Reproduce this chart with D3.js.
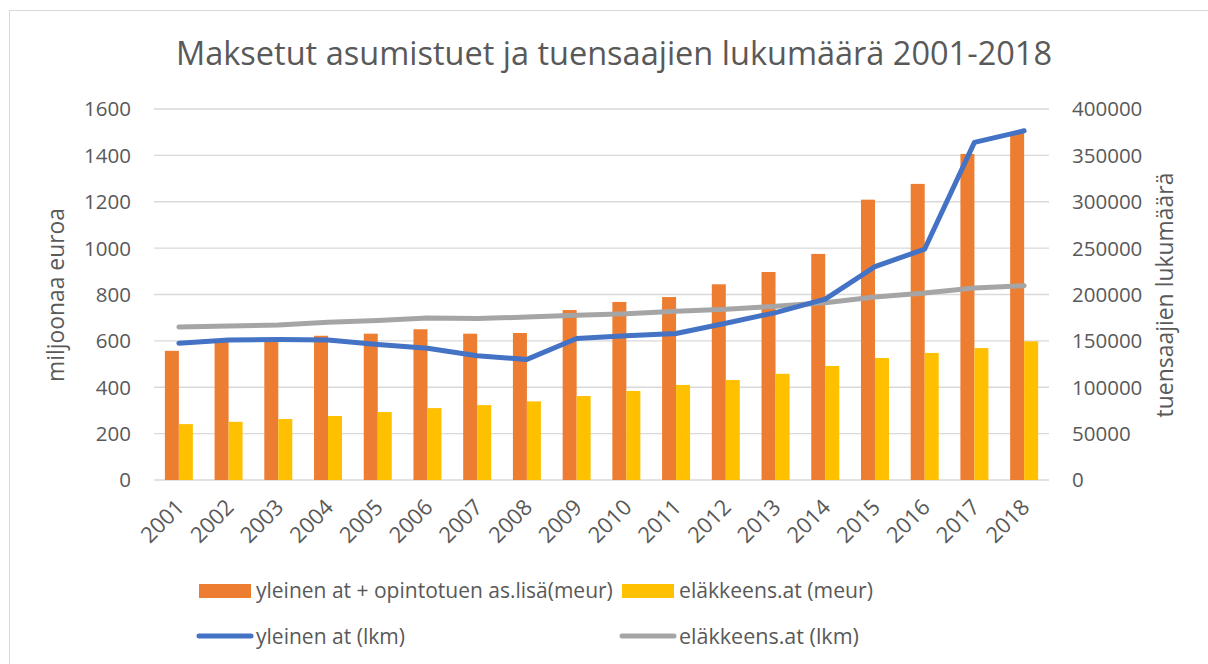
<!DOCTYPE html>
<html>
<head>
<meta charset="utf-8">
<script src="https://cdn.jsdelivr.net/npm/d3@7"></script>
<style>
  body { margin: 0; background: #fff; }
  text { font-family: "Open Sans", sans-serif; fill: #595959; }
</style>
</head>
<body>
<script>
// Data
const years = ['2001','2002','2003','2004','2005','2006','2007','2008','2009',
               '2010','2011','2012','2013','2014','2015','2016','2017','2018'];
// million euros (left axis)
const yleinenMeur = [557, 595, 605, 622, 631, 650, 631, 634, 733,
                     768, 789, 844, 897, 975, 1209, 1277, 1406, 1500];
const elakeMeur = [241, 251, 263, 276, 293, 310, 323, 339, 362,
                   384, 410, 431, 458, 492, 526, 548, 569, 598];
// number of recipients (right axis)
const yleinenLkm = [147500, 151000, 151500, 151000, 146000, 142000, 134000, 130000, 152500,
                    155500, 158000, 169000, 180500, 195000, 230000, 249000, 364000, 376500];
const elakeLkm = [165000, 166000, 167000, 170000, 172000, 174700, 174000, 175700, 177500,
                  179300, 182000, 184000, 187300, 191200, 197300, 201600, 207000, 209500];
const leftTicks = [0, 200, 400, 600, 800, 1000, 1200, 1400, 1600];
const rightTicks = [0, 50000, 100000, 150000, 200000, 250000, 300000, 350000, 400000];

const W = 1208, H = 664;
const plot = { left: 154, right: 1049, top: 109, bottom: 480 };

const svg = d3.select('body').append('svg')
    .attr('width', W)
    .attr('height', H);

// chart border
svg.append('rect')
    .attr('x', 9.5).attr('y', 10.5)
    .attr('width', W + 20).attr('height', H + 20)
    .attr('fill', 'none')
    .attr('stroke', '#d9d9d9');

// shrink/grow font so text spans a given width
function fit(sel, target) {
    const size = parseFloat(sel.style('font-size'));
    const len = sel.node().getComputedTextLength();
    sel.style('font-size', (size * target / len) + 'px');
}

// Title
svg.append('text')
    .attr('x', 614).attr('y', 65)
    .attr('text-anchor', 'middle')
    .style('font-size', '30px')
    .text('Maksetut asumistuet ja tuensaajien lukumäärä 2001-2018')
    .call(fit, 876);

// Scales
const x0 = d3.scaleBand()
    .domain(years)
    .range([plot.left, plot.right])
    .paddingInner(0.437)
    .paddingOuter(0.2185);

const x1 = d3.scaleBand()
    .domain(['a', 'b'])
    .range([0, x0.bandwidth()]);

const yL = d3.scaleLinear().domain([0, 1600]).range([plot.bottom, plot.top]);
const yR = d3.scaleLinear().domain([0, 400000]).range([plot.bottom, plot.top]);

// gridlines
svg.append('g')
    .selectAll('line')
    .data(leftTicks)
    .enter().append('line')
    .attr('x1', plot.left).attr('x2', plot.right)
    .attr('y1', d => yL(d)).attr('y2', d => yL(d))
    .attr('stroke', '#d9d9d9')
    .attr('stroke-width', 1.3);

// left tick labels
svg.append('g')
    .selectAll('text')
    .data(leftTicks)
    .enter().append('text')
    .attr('x', 131)
    .attr('y', d => yL(d))
    .attr('dy', '0.36em')
    .attr('text-anchor', 'end')
    .style('font-size', '20.5px')
    .text(d => d);

// right tick labels
svg.append('g')
    .selectAll('text')
    .data(rightTicks)
    .enter().append('text')
    .attr('x', 1072)
    .attr('y', d => yR(d))
    .attr('dy', '0.36em')
    .style('font-size', '20.5px')
    .text(d => d);

// axis titles
svg.append('text')
    .attr('transform', 'translate(64,295) rotate(-90)')
    .attr('text-anchor', 'middle')
    .style('font-size', '22px')
    .text('miljoonaa euroa')
    .call(fit, 174);

svg.append('text')
    .attr('transform', 'translate(1173,295) rotate(-90)')
    .attr('text-anchor', 'middle')
    .style('font-size', '22px')
    .text('tuensaajien lukumäärä')
    .call(fit, 245);

// bars
const bars = svg.append('g');
bars.selectAll('.b1')
    .data(years)
    .enter().append('rect')
    .attr('x', d => x0(d) + x1('a'))
    .attr('y', (d, i) => yL(yleinenMeur[i]))
    .attr('width', x1.bandwidth())
    .attr('height', (d, i) => yL(0) - yL(yleinenMeur[i]))
    .attr('fill', '#ed7d31');

bars.selectAll('.b2')
    .data(years)
    .enter().append('rect')
    .attr('x', d => x0(d) + x1('b'))
    .attr('y', (d, i) => yL(elakeMeur[i]))
    .attr('width', x1.bandwidth())
    .attr('height', (d, i) => yL(0) - yL(elakeMeur[i]))
    .attr('fill', '#ffc000');

// lines
const cx = d => x0(d) + x0.bandwidth() / 2;
const line = vals => d3.line()
    .x(d => cx(d))
    .y((d, i) => yR(vals[i]))(years);

svg.append('path')
    .attr('d', line(elakeLkm))
    .attr('fill', 'none')
    .attr('stroke', '#a5a5a5')
    .attr('stroke-width', 5)
    .attr('stroke-linecap', 'round')
    .attr('stroke-linejoin', 'round');

svg.append('path')
    .attr('d', line(yleinenLkm))
    .attr('fill', 'none')
    .attr('stroke', '#4472c4')
    .attr('stroke-width', 5)
    .attr('stroke-linecap', 'round')
    .attr('stroke-linejoin', 'round');

// year labels
svg.append('g')
    .selectAll('text')
    .data(years)
    .enter().append('text')
    .attr('transform', d => `translate(${cx(d) - 5},497) rotate(-45)`)
    .attr('text-anchor', 'end')
    .attr('dy', '0.75em')
    .style('font-size', '22px')
    .text(d => d);

// legend
const legend = svg.append('g');
legend.append('rect')
    .attr('x', 199).attr('y', 584).attr('width', 52).attr('height', 14)
    .attr('fill', '#ed7d31');
legend.append('text')
    .attr('x', 256).attr('y', 598)
    .style('font-size', '20px')
    .text('yleinen at + opintotuen as.lisä(meur)')
    .call(fit, 357);

legend.append('rect')
    .attr('x', 622).attr('y', 584).attr('width', 52).attr('height', 14)
    .attr('fill', '#ffc000');
legend.append('text')
    .attr('x', 679).attr('y', 598)
    .style('font-size', '20px')
    .text('eläkkeens.at (meur)')
    .call(fit, 194);

legend.append('line')
    .attr('x1', 199).attr('x2', 251).attr('y1', 636).attr('y2', 636)
    .attr('stroke', '#4472c4').attr('stroke-width', 5).attr('stroke-linecap', 'round');
legend.append('text')
    .attr('x', 256).attr('y', 644)
    .style('font-size', '20px')
    .text('yleinen at (lkm)')
    .call(fit, 149);

legend.append('line')
    .attr('x1', 622).attr('x2', 674).attr('y1', 636).attr('y2', 636)
    .attr('stroke', '#a5a5a5').attr('stroke-width', 5).attr('stroke-linecap', 'round');
legend.append('text')
    .attr('x', 679).attr('y', 644)
    .style('font-size', '20px')
    .text('eläkkeens.at (lkm)')
    .call(fit, 180);
</script>
</body>
</html>
